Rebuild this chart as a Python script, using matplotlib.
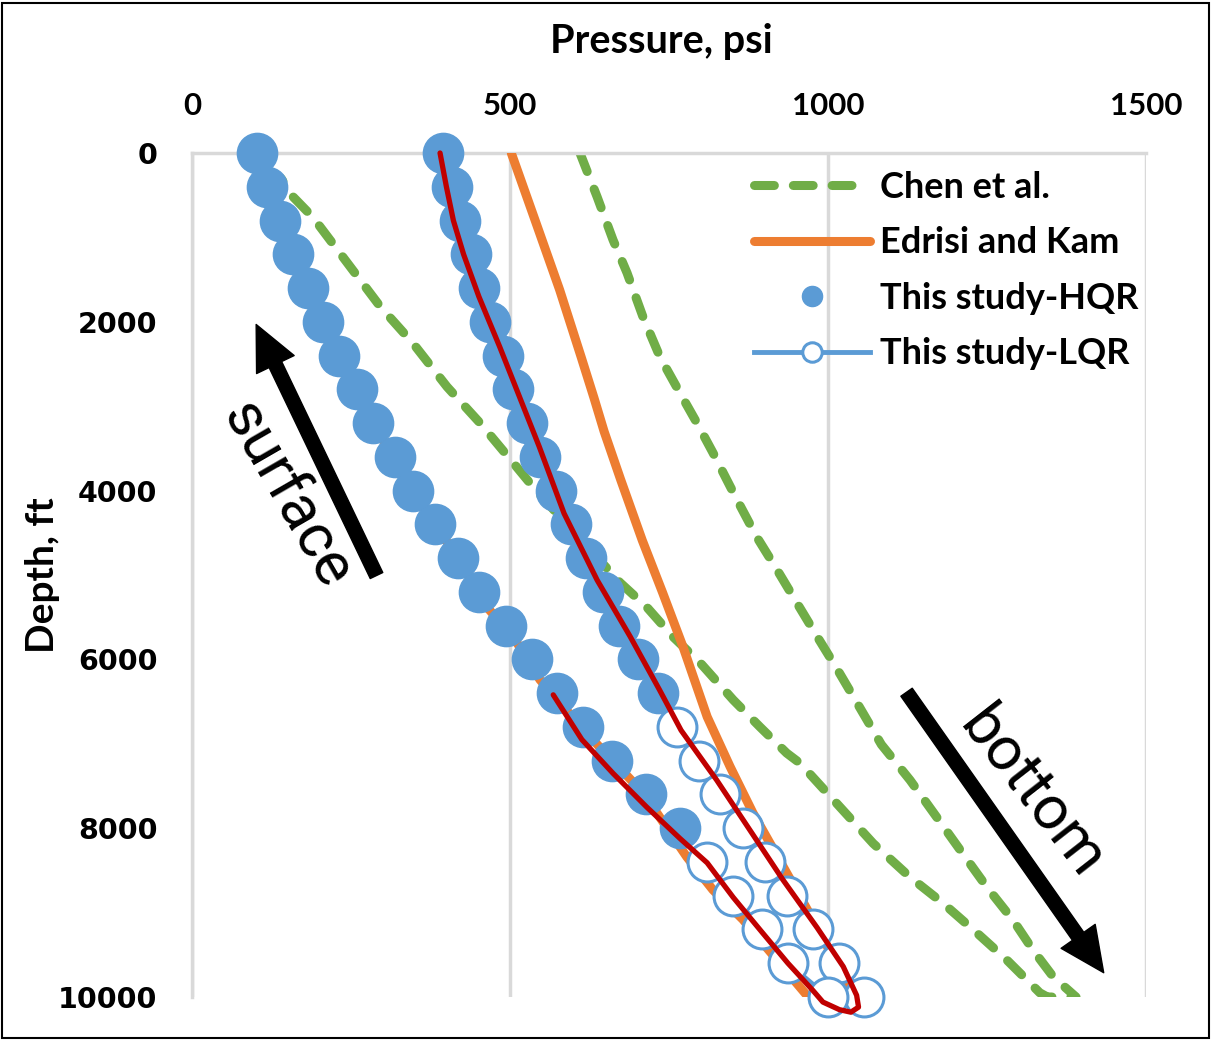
import numpy as np
import matplotlib.pyplot as plt
from matplotlib.patches import FancyArrowPatch, Rectangle


# Chen et al. (dashed loop): right branch down, then left branch back up
chen_depth = [0, 520, 1030, 1420, 1940, 2420, 2840, 3200, 3550, 4110, 4550, 4940,
              5330, 5730, 6110, 6520, 7010, 7430, 7870, 8260, 8700, 9090, 9440,
              9760, 10000,
              10000, 9950, 9560, 9240, 8890, 8580, 8180, 7230, 7110, 6800, 6480,
              6040, 5730, 5380, 5090, 3990, 3670, 3200, 2770, 2250, 1820, 1300,
              760, 520, 300]
chen_p = [610, 637, 662, 684, 709, 736, 767, 794, 819, 857, 888, 920,
          951, 983, 1014, 1046, 1084, 1129, 1171, 1208, 1250, 1291, 1322,
          1354, 1390,
          1345, 1333, 1281, 1234, 1181, 1129, 1071, 956, 935, 893, 851,
          799, 756, 715, 673, 540, 505, 453, 401, 347, 296, 244,
          190, 159, 140]

# Edrisi and Kam (solid loop)
edrisi_depth = [0, 830, 1620, 2420, 2900, 3300, 3870, 4590, 5210, 5850, 6680, 7270,
                7820, 8180, 8530, 9200, 10000,
                10000, 9080, 8730, 8340, 7820, 7450, 7040, 6690, 6240, 5730,
                5400, 4800, 4000, 3200, 2400, 1600, 800, 0]
edrisi_p = [502, 541, 578, 612, 632, 648, 674, 708, 740, 772, 810, 846,
            882, 909, 935, 985, 1040,
            969, 866, 819, 778, 731, 693, 641, 599, 547, 505,
            466, 418, 347, 285, 231, 182, 138, 100]

# This study - HQR (two branches, gap between them)
hqr_depth = [0, 400, 800, 1200, 1600, 2000, 2400, 2800, 3200, 3600, 4000, 4400,
             4800, 5200, 5600, 6000, 6400, 6800, 7200, 7600, 8000, np.nan,
             0, 400, 800, 1200, 1600, 2000, 2400, 2800, 3200, 3600, 4000, 4400,
             4800, 5200, 5600, 6000, 6400]
hqr_p = [102, 118, 138, 159, 182, 206, 231, 259, 285, 319, 347, 382,
         418, 451, 494, 535, 574, 615, 660, 714, 767, np.nan,
         395, 409, 421, 439, 451, 469, 489, 505, 527, 547, 572, 596,
         619, 646, 671, 701, 733]

# This study - LQR
lqr_depth = [6800, 7200, 7600, 8000, 8400, 8800, 9200, 9600, 10000,
             10000, 9600, 9200, 8800, 8400]
lqr_p = [763, 797, 830, 866, 901, 936, 976, 1017, 1057,
         1000, 937, 896, 851, 810]

# fitted curve (red, no legend entry)
fit_depth = [0, 400, 800, 1200, 1700, 2300, 2890, 3480, 4270, 5060, 5730, 6360, 6840,
             7430, 8020, 8610, 9180, 9640, 9980, 10120, 10180, 10150, 10060, 9920,
             9600, 9230, 8820, 8410, 8120, 7750, 7350, 6950, 6420]
fit_p = [390, 400, 411, 427, 451, 484, 515, 546, 585, 637, 689, 735, 769,
         825, 877, 929, 983, 1024, 1045, 1048, 1036, 1018, 992, 976,
         937, 896, 851, 810, 767, 715, 662, 613, 568]

x_ticks = [0, 500, 1000, 1500]
y_ticks = [0, 2000, 4000, 6000, 8000, 10000]

BLUE = '#5B9BD5'
ORANGE = '#ED7D31'
GREEN = '#70AD47'
RED = '#C00000'
GRID = '#D9D9D9'

fig = plt.figure(figsize=(12.13, 10.40), dpi=100)
ax = fig.add_axes([192 / 1213, 1 - 997 / 1040, (1146 - 192) / 1213, (997 - 153) / 1040])

ax.plot(chen_p, chen_depth, color=GREEN, lw=6.5, dashes=(2.2, 2.1),
        dash_capstyle='round', solid_capstyle='round', label='Chen et al.', zorder=2)
ax.plot(edrisi_p, edrisi_depth, color=ORANGE, lw=6.5, solid_capstyle='round',
        solid_joinstyle='round', label='Edrisi and Kam', zorder=3)
ax.plot(hqr_p, hqr_depth, ls='none', marker='o', ms=29, mfc=BLUE, mec=BLUE,
        label='This study-HQR', zorder=4, clip_on=False)
ax.plot(lqr_p, lqr_depth, color=BLUE, lw=3.5, marker='o', ms=28, mfc='white',
        mec=BLUE, mew=2.2, label='This study-LQR', zorder=5, clip_on=False)
ax.plot(fit_p, fit_depth, color=RED, lw=3.8, solid_joinstyle='round',
        solid_capstyle='round', clip_on=False, zorder=6)

ax.set_xlim(0, 1500)
ax.set_ylim(10000, 0)
ax.xaxis.tick_top()
ax.xaxis.set_label_position('top')
ax.set_xticks(x_ticks)
ax.set_yticks(y_ticks)
ax.grid(axis='x', color=GRID, lw=2.5)
ax.tick_params(length=0)
ax.tick_params(axis='x', pad=24)
ax.tick_params(axis='y', pad=25)
for lab in ax.get_xticklabels():
    lab.set_fontfamily('Lato')
    lab.set_fontweight('bold')
    lab.set_fontsize(22.5)
for lab in ax.get_yticklabels():
    lab.set_fontfamily('DejaVu Sans')
    lab.set_fontweight('bold')
    lab.set_fontsize(20.5)
for side in ['right', 'bottom']:
    ax.spines[side].set_visible(False)
for side in ['left', 'top']:
    ax.spines[side].set_color(GRID)
    ax.spines[side].set_linewidth(2.5)

fig.text(661 / 1213, 1 - 42 / 1040, 'Pressure, psi', ha='center', va='center',
         family='Lato', weight='bold', fontsize=28.5)
fig.text(42 / 1213, 1 - 575 / 1040, 'Depth, ft', ha='center', va='center',
         rotation=90, family='Lato', weight='bold', fontsize=28)

leg = ax.legend(loc='upper left', bbox_to_anchor=(736 / 1213, 1 - 153 / 1040),
                bbox_transform=fig.transFigure, frameon=False, numpoints=1,
                markerscale=0.5, handlelength=3.2, handletextpad=0.3,
                labelspacing=0.62, borderpad=0, prop={'family': 'Lato', 'weight': 'bold', 'size': 26})

# direction arrows
ax.add_patch(FancyArrowPatch((292, 5036), (99, 2002), arrowstyle='simple,head_length=1.6,head_width=1.5,tail_width=0.5',
                             mutation_scale=20, color='black', zorder=7))
ax.add_patch(FancyArrowPatch((1121, 6362), (1436, 9739), arrowstyle='simple,head_length=1.6,head_width=1.5,tail_width=0.5',
                             mutation_scale=20, color='black', zorder=7))
ax.text(149, 4052, 'surface', rotation=-60, ha='center', va='center',
        family='Roboto', fontsize=44, rotation_mode='anchor')
ax.text(1321, 7580, 'bottom', rotation=-52, ha='center', va='center',
        family='Roboto', fontsize=44, rotation_mode='anchor')

fig.patches.append(Rectangle((0.002, 0.002), 0.995, 0.995, transform=fig.transFigure,
                             fill=False, ec='black', lw=1.5))

fig.savefig('out.png', dpi=100)
